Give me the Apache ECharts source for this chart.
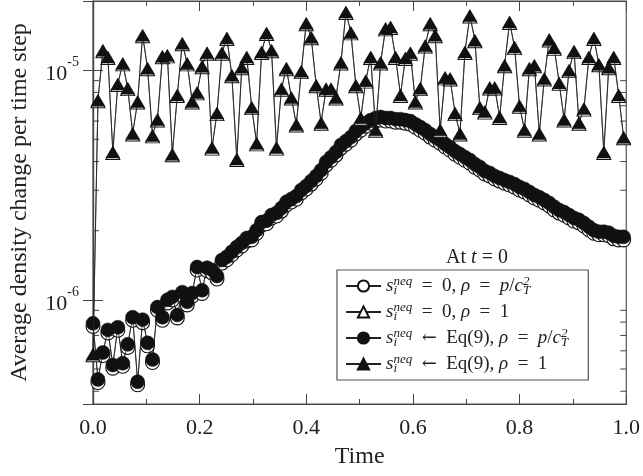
<!DOCTYPE html>
<html><head><meta charset="utf-8">
<script src="https://cdn.jsdelivr.net/npm/echarts@6/dist/echarts.min.js"></script>
<style>html,body{margin:0;padding:0;background:#fff}#c{width:643px;height:476px}</style>
</head><body><div id="c"></div>
<script>
// ---- data ----
const timeStep = 0.0093; // spacing of the samples along the time axis
const circleVals = [7.9e-7, 4.5e-7, 5.9e-7, 7.4e-7, 5.2e-7, 7.6e-7, 5.3e-7, 6.4e-7, 8.4e-7, 4.4e-7,
 8.2e-7, 6.5e-7, 5.5e-7, 9.3e-7, 8.4e-7, 1.00e-6, 1.03e-6, 8.6e-7, 1.08e-6, 9.8e-7,
 1.07e-6, 1.39e-6, 1.10e-6, 1.38e-6, 1.35e-6, 1.27e-6, 1.49e-6, 1.54e-6, 1.62e-6, 1.70e-6,
 1.77e-6, 1.86e-6, 1.88e-6, 2.01e-6, 2.18e-6, 2.21e-6, 2.34e-6, 2.39e-6, 2.51e-6, 2.67e-6,
 2.75e-6, 2.83e-6, 3.01e-6, 3.13e-6, 3.29e-6, 3.46e-6, 3.67e-6, 3.98e-6, 4.18e-6, 4.40e-6,
 4.72e-6, 4.91e-6, 5.11e-6, 5.43e-6, 5.65e-6, 5.88e-6, 6.06e-6, 6.19e-6, 6.25e-6, 6.19e-6,
 6.19e-6, 6.12e-6, 6.12e-6, 6.06e-6, 6.00e-6, 5.82e-6, 5.65e-6, 5.48e-6, 5.27e-6, 5.11e-6,
 4.96e-6, 4.77e-6, 4.62e-6, 4.44e-6, 4.31e-6, 4.18e-6, 4.06e-6, 3.90e-6, 3.79e-6, 3.64e-6,
 3.57e-6, 3.46e-6, 3.39e-6, 3.32e-6, 3.26e-6, 3.19e-6, 3.10e-6, 3.04e-6, 2.95e-6, 2.86e-6,
 2.80e-6, 2.72e-6, 2.64e-6, 2.54e-6, 2.46e-6, 2.41e-6, 2.34e-6, 2.27e-6, 2.23e-6, 2.16e-6,
 2.08e-6, 2.01e-6, 1.98e-6, 1.98e-6, 1.96e-6, 1.90e-6, 1.88e-6, 1.88e-6];
const triangleVals = [5.8e-7, 7.4e-6, 1.22e-5, 1.14e-5, 4.4e-6, 8.7e-6, 1.07e-5, 8.35e-6, 5.3e-6, 7.3e-6,
 1.42e-5, 1.02e-5, 5.2e-6, 6.1e-6, 1.15e-5, 1.16e-5, 4.3e-6, 7.8e-6, 1.31e-5, 1.07e-5,
 7.3e-6, 8.0e-6, 1.04e-5, 1.19e-5, 4.6e-6, 6.5e-6, 1.19e-5, 1.38e-5, 9.5e-6, 4.1e-6,
 1.03e-5, 1.14e-5, 6.9e-6, 4.8e-6, 1.20e-5, 1.45e-5, 1.22e-5, 4.6e-6, 8.3e-6, 1.02e-5,
 7.6e-6, 5.8e-6, 9.9e-6, 1.60e-5, 1.39e-5, 8.6e-6, 5.9e-6, 8.3e-6, 8.3e-6, 7.6e-6,
 1.08e-5, 1.79e-5, 1.46e-5, 8.6e-6, 6.2e-6, 9.0e-6, 1.14e-5, 5.5e-6, 1.08e-5, 1.52e-5,
 1.54e-5, 1.14e-5, 7.8e-6, 1.13e-5, 1.19e-5, 7.3e-6, 8.35e-6, 1.28e-5, 1.60e-5, 1.42e-5,
 5.5e-6, 9.3e-6, 9.2e-6, 6.5e-6, 5.3e-6, 1.20e-5, 1.73e-5, 1.35e-5, 6.9e-6, 6.6e-6,
 8.4e-6, 8.4e-6, 6.25e-6, 1.05e-5, 1.62e-5, 1.26e-5, 7.0e-6, 5.5e-6, 1.02e-5, 1.05e-5,
 5.3e-6, 9.2e-6, 1.36e-5, 1.25e-5, 8.8e-6, 6.1e-6, 1.00e-5, 1.21e-5, 5.9e-6, 6.8e-6,
 1.14e-5, 1.38e-5, 1.06e-5, 4.4e-6, 1.03e-5, 1.14e-5, 7.8e-6, 5.1e-6];
const yMin = 3.52e-7, yMax = 2.0e-5;
const yMinorTicks = [4e-7, 5e-7, 6e-7, 7e-7, 8e-7, 9e-7, 2e-6, 3e-6, 4e-6, 5e-6, 6e-6, 7e-6, 8e-6, 9e-6];
const seriesNames = ['openCircle', 'openTriangle', 'fullCircle', 'fullTriangle'];
const SP = '\u2002';
const legendTexts = {
  openCircle: '{it|s}{sub|i}{sup|neq}{rm|' + SP + '=' + SP + '0, }{it|ρ}{rm|' + SP + '=' + SP + '}{it|p}{rm|/}{it|c}{sub|T}{sup|2}',
  openTriangle: '{it|s}{sub|i}{sup|neq}{rm|' + SP + '=' + SP + '0, }{it|ρ}{rm|' + SP + '=' + SP + '1}',
  fullCircle: '{it|s}{sub|i}{sup|neq}{rm|' + SP + '}{ar|←}{rm|' + SP + 'Eq(9), }{it|ρ}{rm|' + SP + '=' + SP + '}{it|p}{rm|/}{it|c}{sub|T}{sup|2}',
  fullTriangle: '{it|s}{sub|i}{sup|neq}{rm|' + SP + '}{ar|←}{rm|' + SP + 'Eq(9), }{it|ρ}{rm|' + SP + '=' + SP + '1}'
};

// ---- chart ----
const FONT = 'Liberation Serif';
const pairs = vals => vals.map((v, i) => [i * timeStep, v]);
const chart = echarts.init(document.getElementById('c'), null, {renderer: 'canvas'});
const lineStyle = {color: '#222', width: 0.8};
const axisLineStyle = {color: '#444', width: 1.2};

const option = {
  animation: false,
  backgroundColor: '#fff',
  grid: {left: 91, right: 14, top: 1, bottom: 72, show: true, borderColor: '#555', borderWidth: 1.2, backgroundColor: 'transparent'},
  title: {
    text: 'At {i|t} = 0', left: 472, top: 243, textAlign: 'center',
    textStyle: {fontFamily: FONT, fontSize: 20, fontWeight: 'normal', color: '#222',
      rich: {i: {fontFamily: FONT, fontSize: 20, fontStyle: 'italic', color: '#222'}}}
  },
  legend: {
    data: seriesNames, orient: 'vertical', left: 337, top: 270,
    padding: [5, 20, 5, 8], itemGap: 4, itemWidth: 35, itemHeight: 14,
    borderColor: '#555', borderWidth: 1.2, backgroundColor: '#fff',
    formatter: name => legendTexts[name],
    textStyle: {
      fontFamily: FONT, fontSize: 19, color: '#222',
      rich: {
        it: {fontFamily: FONT, fontSize: 19, fontStyle: 'italic', lineHeight: 22, color: '#222'},
        rm: {fontFamily: FONT, fontSize: 19, lineHeight: 22, color: '#222'},
        ar: {fontFamily: 'DejaVu Serif', fontSize: 18, lineHeight: 22, color: '#222'},
        sup: {fontFamily: FONT, fontSize: 13, fontStyle: 'italic', lineHeight: 12, verticalAlign: 'top', color: '#222'},
        sub: {fontFamily: FONT, fontSize: 13, fontStyle: 'italic', lineHeight: 12, verticalAlign: 'bottom', width: 0, color: '#222'}
      }
    }
  },
  xAxis: [{
    type: 'value', min: 0, max: 1, interval: 0.2, position: 'bottom',
    name: 'Time', nameLocation: 'middle', nameGap: 41,
    nameTextStyle: {fontFamily: FONT, fontSize: 24, color: '#222'},
    axisLine: {show: true, lineStyle: axisLineStyle},
    axisTick: {show: true, inside: true, length: 10, lineStyle: {color: '#444'}},
    minorTick: {show: true, splitNumber: 2, length: 5, lineStyle: {color: '#444'}},
    splitLine: {show: false},
    axisLabel: {fontFamily: FONT, fontSize: 22, color: '#222', margin: 13, formatter: v => v.toFixed(1)}
  }, {
    type: 'value', min: 0, max: 1, interval: 0.2, position: 'top',
    axisLine: {show: true, lineStyle: axisLineStyle},
    axisTick: {show: true, inside: true, length: 10, lineStyle: {color: '#444'}},
    minorTick: {show: true, splitNumber: 2, length: 5, lineStyle: {color: '#444'}},
    splitLine: {show: false}, axisLabel: {show: false}
  }],
  yAxis: [{
    type: 'log', logBase: 10, min: yMin, max: yMax, position: 'left',
    name: 'Average density change per time step', nameLocation: 'middle', nameGap: 61, nameRotate: 90,
    nameTextStyle: {fontFamily: FONT, fontSize: 24, color: '#222'},
    axisLine: {show: true, lineStyle: axisLineStyle},
    axisTick: {show: true, inside: true, length: 10, lineStyle: {color: '#444'}},
    splitLine: {show: false},
    axisLabel: {
      margin: 14, showMinLabel: false, showMaxLabel: false,
      fontFamily: FONT, fontSize: 22, color: '#222', lineHeight: 30, overflow: 'none',
      formatter: v => {
        const e = Math.log10(v);
        if (Math.abs(e - Math.round(e)) < 1e-6) return '{base|10}{expo|' + Math.round(e) + '}';
        return '';
      },
      rich: {
        base: {fontFamily: FONT, fontSize: 22, color: '#222', verticalAlign: 'bottom'},
        expo: {fontFamily: FONT, fontSize: 14, color: '#222', verticalAlign: 'top'}
      }
    }
  }, {
    type: 'log', logBase: 10, min: yMin, max: yMax, position: 'right',
    axisLine: {show: true, lineStyle: axisLineStyle},
    axisTick: {show: true, inside: true, length: 10, lineStyle: {color: '#444'}},
    splitLine: {show: false}, axisLabel: {show: false}
  }],
  series: [
    {name: 'openCircle', type: 'line', data: pairs(circleVals), symbol: 'circle', symbolSize: 14, symbolOffset: [0, 3],
     showAllSymbol: true, lineStyle: lineStyle, itemStyle: {color: '#fff', borderColor: '#111', borderWidth: 1.1}, z: 2},
    {name: 'fullCircle', type: 'line', data: pairs(circleVals), symbol: 'circle', symbolSize: 14,
     showAllSymbol: true, lineStyle: lineStyle, itemStyle: {color: '#111', borderColor: '#111', borderWidth: 0.5}, z: 3},
    {name: 'openTriangle', type: 'line', data: pairs(triangleVals), symbol: 'triangle', symbolSize: [14, 12], symbolOffset: [0, 1.5],
     showAllSymbol: true, lineStyle: lineStyle, itemStyle: {color: '#fff', borderColor: '#111', borderWidth: 1.0}, z: 4},
    {name: 'fullTriangle', type: 'line', data: pairs(triangleVals), symbol: 'triangle', symbolSize: [14, 12],
     showAllSymbol: true, lineStyle: lineStyle, itemStyle: {color: '#111', borderColor: '#111', borderWidth: 0.5}, z: 5}
  ]
};
chart.setOption(option);

// minor ticks of the log axes, placed through the axis scale
const xL = chart.convertToPixel({xAxisIndex: 0}, 0);
const xR = chart.convertToPixel({xAxisIndex: 0}, 1);
const g = [];
yMinorTicks.forEach(v => {
  const y = chart.convertToPixel({yAxisIndex: 0}, v);
  g.push({type: 'line', shape: {x1: xL, y1: y, x2: xL + 6, y2: y}, style: {stroke: '#444', lineWidth: 1}, z: 1});
  g.push({type: 'line', shape: {x1: xR, y1: y, x2: xR - 6, y2: y}, style: {stroke: '#444', lineWidth: 1}, z: 1});
});
chart.setOption({graphic: g});
</script></body></html>
